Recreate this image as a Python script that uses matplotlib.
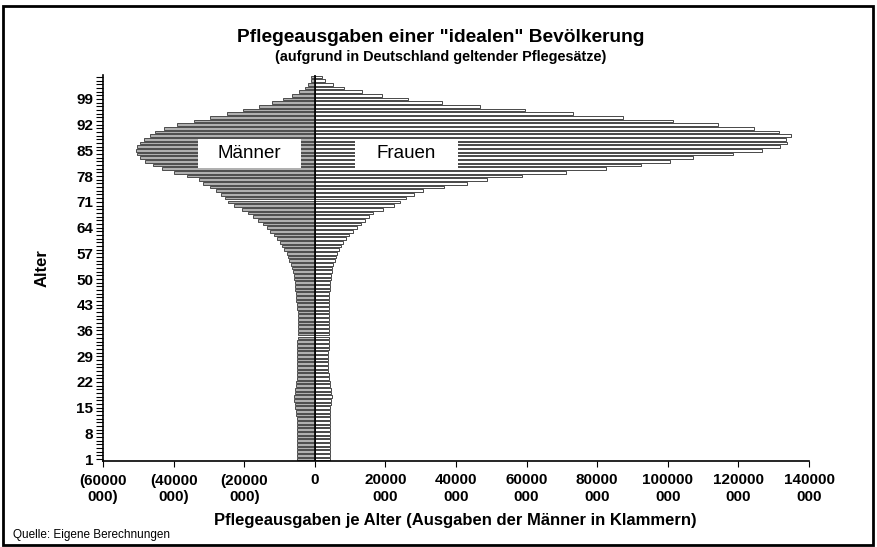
import numpy as np
import matplotlib
matplotlib.use("Agg")
import matplotlib.pyplot as plt
from matplotlib.patches import Rectangle

plt.rcParams['font.family'] = ['Liberation Sans', 'DejaVu Sans']

# Alter 1..105, Werte in Mio. Euro
ages = np.arange(1, 106)

frauen = np.array(
    [4.2] * 14
    + [4.4, 4.6, 4.7, 4.75, 4.7, 4.6, 4.4, 4.2, 4.0, 3.9]
    + [3.8] * 6 + [3.9] * 5 + [4.0] * 7 + [4.1] * 4
    + [4.2, 4.2, 4.4, 4.5, 4.5, 4.8, 5.0, 5.2, 5.6, 5.9,        # 47-56
       6.2, 6.8, 7.4, 7.9, 8.8, 9.6, 10.8, 11.9, 13.0, 14.2,     # 57-66
       15.3, 16.4, 19.3, 22.4, 24.1, 25.8, 28.0, 30.6, 36.5, 43.1,  # 67-76
       48.7, 58.6, 71.1, 82.4, 92.4, 100.6, 107.1, 118.4, 126.6, 131.7,  # 77-86
       133.7, 133.4, 134.8, 131.4, 124.4, 114.2, 101.4, 87.3, 73.1, 59.5,  # 87-96
       46.7, 36.0, 26.3, 19.0, 13.3, 8.2, 5.1, 2.8, 2.0])         # 97-105

maenner = np.array(
    [5.1] * 12
    + [5.2, 5.3, 5.5, 5.7, 5.8, 5.8, 5.7, 5.5, 5.3, 5.2]
    + [5.0] * 11 + [4.9] * 8
    + [5.0, 5.1, 5.2, 5.3, 5.4, 5.5, 5.6, 5.7, 5.8, 6.0,        # 42-51
       6.2, 6.5, 6.8, 7.2, 7.7, 8.0, 8.6, 9.2, 9.9, 10.7,        # 52-61
       11.6, 12.6, 13.6, 14.8, 16.0, 17.5, 19.0, 20.5, 23.0, 24.5,  # 62-71
       25.5, 26.5, 28.0, 29.6, 31.6, 32.9, 36.2, 40.0, 43.3, 45.7,  # 72-81
       48.0, 49.4, 50.4, 50.6, 50.4, 49.6, 48.5, 46.6, 45.2, 42.6,  # 82-91
       39.0, 34.3, 29.6, 24.9, 20.2, 15.9, 12.1, 9.0, 6.5, 4.6,  # 92-101
       2.9, 1.8, 1.1, 1.1])                                       # 102-105

xticks = np.arange(-60, 141, 20)
yticks = np.arange(1, 106, 7)


def fmt(v):
    if v == 0:
        return "0"
    s = f"{int(abs(v)) * 1000}\n000"
    if v < 0:
        s = "(" + s + ")"
    return s


fig = plt.figure(figsize=(8.77, 5.47), dpi=100)
ax = fig.add_axes([103 / 877, 1 - 461 / 547, (809 - 103) / 877, (461 - 75) / 547])

ax.barh(ages, frauen, height=0.72, color='white', edgecolor='black', linewidth=0.5)
ax.barh(ages, -maenner, height=0.72, color='#b0b0b0', edgecolor='black', linewidth=0.45)
ax.axvline(0, color='black', lw=1.2)

ax.set_xlim(-60, 140)
ax.set_ylim(0.5, 105.5)
for s in ['top', 'right']:
    ax.spines[s].set_visible(False)
for s in ['left', 'bottom']:
    ax.spines[s].set_linewidth(1.2)

ax.set_yticks(yticks)
ax.set_yticks(ages, minor=True)
ax.set_yticklabels([str(t) for t in yticks], fontsize=11, fontweight='bold')
ax.tick_params(axis='y', which='both', length=5, width=0.8, pad=2)

ax.set_xticks(xticks)
ax.set_xticklabels([fmt(v) for v in xticks], fontsize=11, fontweight='bold',
                   multialignment='center')
ax.tick_params(axis='x', length=4, width=0.8, pad=5)

# Beschriftungsboxen
ax.add_patch(Rectangle((-33.1, 80.2), 29.1, 7.9, facecolor='white', edgecolor='none', zorder=3))
ax.text(-18.6, 84.2, "Männer", ha='center', va='center', fontsize=13.5, zorder=4)
ax.add_patch(Rectangle((11.3, 80.2), 29.2, 7.9, facecolor='white', edgecolor='none', zorder=3))
ax.text(25.9, 84.2, "Frauen", ha='center', va='center', fontsize=13.5, zorder=4)

fig.text(0.502, 1 - 38 / 547, 'Pflegeausgaben einer "idealen" Bevölkerung',
         ha='center', va='center', fontsize=13.8, fontweight='bold')
fig.text(0.502, 1 - 57 / 547, '(aufgrund in Deutschland geltender Pflegesätze)',
         ha='center', va='center', fontsize=10.4, fontweight='bold')
fig.text(455 / 877, 1 - 520 / 547, 'Pflegeausgaben je Alter (Ausgaben der Männer in Klammern)',
         ha='center', va='center', fontsize=12, fontweight='bold')
fig.text(42 / 877, 1 - 268 / 547, 'Alter', rotation=90, ha='center', va='center',
         fontsize=12, fontweight='bold')
fig.text(13 / 877, 1 - 535 / 547, 'Quelle: Eigene Berechnungen', ha='left', va='center',
         fontsize=8.5)

fig.patches.append(Rectangle((3 / 877, 2 / 547), 870 / 877, 539 / 547, transform=fig.transFigure,
                             fill=False, edgecolor='black', lw=2))

fig.savefig("out.png", dpi=100)
